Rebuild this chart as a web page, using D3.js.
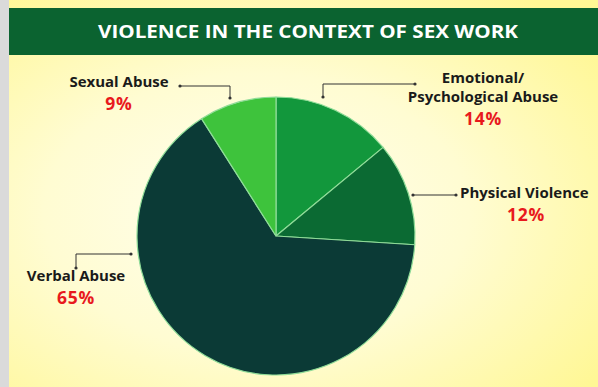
<!DOCTYPE html>
<html>
<head>
<meta charset="utf-8">
<script src="https://cdn.jsdelivr.net/npm/d3@7"></script>
<style>
  html, body { margin: 0; padding: 0; background: #dadada; }
  svg { display: block; }
  text { font-family: "Open Sans", "Lato", sans-serif; font-weight: 700; }
</style>
</head>
<body>
<svg id="chart" width="598" height="387"></svg>
<script>
// Share of reported violence, by type
const categories = ["Emotional/\nPsychological Abuse", "Physical Violence", "Verbal Abuse", "Sexual Abuse"];
const values = [14, 12, 65, 9];
const percentLabels = ["14%", "12%", "65%", "9%"];
const sliceColors = ["#12973c", "#0b6a33", "#0b3a36", "#3ec33c"];
const title = "VIOLENCE IN THE CONTEXT OF SEX WORK";

const W = 598, H = 387;
const svg = d3.select("#chart");

// Background panel with a soft yellow glow
const defs = svg.append("defs");
const grad = defs.append("radialGradient")
  .attr("id", "bg").attr("cx", "42%").attr("cy", "55%").attr("r", "72%");
grad.append("stop").attr("offset", "0%").attr("stop-color", "#fffef0");
grad.append("stop").attr("offset", "50%").attr("stop-color", "#fffcd2");
grad.append("stop").attr("offset", "100%").attr("stop-color", "#fff795");

svg.append("rect").attr("x", 0).attr("y", 0).attr("width", W).attr("height", H).attr("fill", "#dadada");
svg.append("rect").attr("x", 9).attr("y", 0).attr("width", W - 9).attr("height", H).attr("fill", "url(#bg)");

// Title band
svg.append("rect").attr("x", 9).attr("y", 8).attr("width", W - 9).attr("height", 47).attr("fill", "#0b6330");
svg.append("text")
  .attr("x", 308).attr("y", 38)
  .attr("text-anchor", "middle")
  .attr("fill", "#ffffff")
  .attr("font-size", 18)
  .attr("textLength", 420)
  .attr("lengthAdjust", "spacingAndGlyphs")
  .text(title);

// Pie
const cx = 276, cy = 236, R = 139;
const g = svg.append("g").attr("transform", `translate(${cx},${cy})`);
const pie = d3.pie().sort(null).value(d => d)(values);
const arc = d3.arc().innerRadius(0).outerRadius(R);
const color = d3.scaleOrdinal().domain(d3.range(values.length)).range(sliceColors);

g.selectAll("path.slice")
  .data(pie)
  .join("path")
  .attr("class", "slice")
  .attr("d", arc)
  .attr("fill", (d, i) => color(i))
  .attr("stroke", "#8fdc98")
  .attr("stroke-width", 1.2)
  .attr("stroke-linejoin", "round");

// Label layout: text anchor point plus leader path
const labelLayout = [
  { tx: 483, ty: 83, anchor: "middle", line: [[415, 84], [323, 84], [323, 97]] },
  { tx: 460, ty: 198, anchor: "start", pctX: 526, line: [[456, 195], [413, 195]] },
  { tx: 76, ty: 281, anchor: "middle", line: [[76, 268], [76, 254], [131, 254]] },
  { tx: 119, ty: 87, anchor: "middle", line: [[180, 86], [230, 86], [230, 98]] }
];

const labels = svg.append("g");
categories.forEach((cat, i) => {
  const L = labelLayout[i];
  const lines = cat.split("\n");
  const t = labels.append("text")
    .attr("x", L.tx).attr("y", L.ty)
    .attr("text-anchor", L.anchor)
    .attr("font-size", 15)
    .attr("fill", "#1a1a1a");
  lines.forEach((ln, k) => {
    t.append("tspan").attr("x", L.tx).attr("dy", k === 0 ? 0 : 19).text(ln);
  });
  labels.append("text")
    .attr("x", L.pctX || L.tx)
    .attr("y", L.ty + (lines.length - 1) * 19 + 23)
    .attr("text-anchor", "middle")
    .attr("font-size", 17.5)
    .attr("letter-spacing", 0.8)
    .attr("fill", "#e8191d")
    .text(percentLabels[i]);

  labels.append("path")
    .attr("d", d3.line()(L.line))
    .attr("fill", "none")
    .attr("stroke", "#333")
    .attr("stroke-width", 1);
  [L.line[0], L.line[L.line.length - 1]].forEach(p => {
    labels.append("circle").attr("cx", p[0]).attr("cy", p[1]).attr("r", 1.6).attr("fill", "#333");
  });
});
</script>
</body>
</html>
